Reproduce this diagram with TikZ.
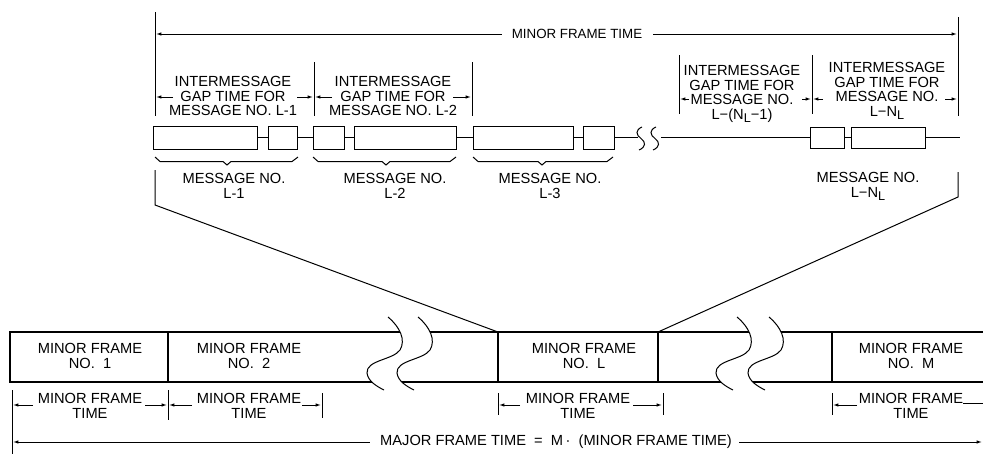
\documentclass[tikz,border=0pt]{standalone}
\usepackage{fontspec}
\setmainfont{Liberation Sans}
\usetikzlibrary{arrows.meta}
\newcommand\sub[1]{\raisebox{-0.45ex}{\fontsize{9.5}{9.5}\selectfont #1}}
\newcommand\wvf[1]{(388+#1,317) .. controls (400+#1,327) and (406+#1,340) .. (400+#1,350) .. controls (393+#1,360) and (366+#1,360) .. (367+#1,373) .. controls (368+#1,381) and (376+#1,386) .. (384+#1,390)}
\newcommand\wvr[1]{(384+#1,390) .. controls (376+#1,386) and (368+#1,381) .. (367+#1,373) .. controls (366+#1,360) and (393+#1,360) .. (400+#1,350) .. controls (406+#1,340) and (400+#1,327) .. (388+#1,317)}
\newcommand\sss[1]{(642+#1,127) .. controls (635+#1,130) and (636+#1,135) .. (641+#1,138.5) .. controls (646+#1,142) and (646+#1,147) .. (639+#1,150)}
\newcommand\mybrace[3]{\draw[ln] (#1,157) -- (#1+5,161.5) -- (#2-4,161.5) -- (#2,165) -- (#2+4,161.5) -- (#3-6,161.5) -- (#3,157);}
\begin{document}
\begin{tikzpicture}[x=0.75pt,y=-0.75pt,
  every node/.style={font=\fontsize{11}{10.9}\selectfont, inner sep=0pt, align=center},
  ln/.style={line width=0.75pt},
  frm/.style={line width=0.9pt},
  arr/.style={ln,-{Latex[length=4pt,width=2.6pt]}},
  mbox/.style={draw, line width=0.75pt, minimum height=23*0.75pt},
  rbox/.style={draw, line width=0.75pt, minimum height=21*0.75pt},
  lbl/.style={anchor=north}]
\useasboundingbox (0,0) rectangle (983,454);

% ---------- top: minor frame time ----------
\draw[ln] (155,12) -- (155,116);
\draw[ln] (958,17) -- (958,116);
\node[font=\fontsize{10}{10}\selectfont] (mft) at (577,34) {MINOR FRAME TIME};
\coordinate (mftL) at (156,34);
\coordinate (mftR) at (957,34);
\draw[arr] (mft.west) ++(-10,0) -- (mftL);
\draw[arr] (mft.east) ++(11,0) -- (mftR);

% ---------- intermessage gap dimensions ----------
\draw[ln] (314,62) -- (314,116);
\draw[ln] (472,62) -- (472,116);
\draw[ln] (679,55) -- (679,114);
\draw[ln] (812,55) -- (812,114);
\node[lbl] (g1) at (233,76) {INTERMESSAGE\\GAP TIME FOR\\MESSAGE NO. L-1};
\node[lbl] (g2) at (393,76) {INTERMESSAGE\\GAP TIME FOR\\MESSAGE NO. L-2};
\node[lbl] (g3) at (742,65) {INTERMESSAGE\\GAP TIME FOR\\MESSAGE NO.\\L−(N\sub{L}−1)};
\node[lbl] (g4) at (887,62) {INTERMESSAGE\\GAP TIME FOR\\MESSAGE NO.\\L−N\sub{L}};
\draw[arr] (173,97) -- (156,97);
\draw[arr] (297,97) -- (313,97);
\draw[arr] (332,97) -- (315,97);
\draw[arr] (453,97) -- (471,97);
\draw[arr] (689,99) -- (680,99);
\draw[arr] (802,99) -- (811,99);
\draw[arr] (823,99) -- (813,99);
\draw[arr] (945,99) -- (957,99);

% ---------- message row ----------
\node[mbox, minimum width=104*0.75pt] (b1) at (205,137.5) {};
\node[mbox, minimum width=29*0.75pt] (b2) at (282.5,137.5) {};
\node[mbox, minimum width=31*0.75pt] (b3) at (328.5,137.5) {};
\node[mbox, minimum width=102*0.75pt] (b4) at (405,137.5) {};
\node[mbox, minimum width=100*0.75pt] (b5) at (523,137.5) {};
\node[mbox, minimum width=31*0.75pt] (b6) at (598.5,137.5) {};
\node[rbox, minimum width=34*0.75pt] (b7) at (827,137.5) {};
\node[rbox, minimum width=74*0.75pt] (b8) at (888,137.5) {};
\coordinate (brkL) at (638,137.5);
\coordinate (brkR) at (661,137.5);
\coordinate (rowEnd) at (960,137.5);
\draw[ln] (b1.east) -- (b2.west);
\draw[ln] (b2.east) -- (b3.west);
\draw[ln] (b3.east) -- (b4.west);
\draw[ln] (b4.east) -- (b5.west);
\draw[ln] (b5.east) -- (b6.west);
\draw[ln] (b6.east) -- (brkL);
\draw[ln] (brkR) -- (b7.west);
\draw[ln] (b7.east) -- (b8.west);
\draw[ln] (b8.east) -- (rowEnd);
\draw[ln] \sss{0};
\draw[ln] \sss{14};

% braces
\mybrace{155}{227}{298}
\mybrace{313}{386}{456}
\mybrace{473}{542}{613}

\node[lbl] (m1) at (234,173) {MESSAGE NO.\\L-1};
\node[lbl] (m2) at (395,173) {MESSAGE NO.\\L-2};
\node[lbl] (m3) at (550,173) {MESSAGE NO.\\L-3};
\node[lbl] (m4) at (868,172) {MESSAGE NO.\\L−N\sub{L}};

% ---------- zoom lines ----------
\coordinate (fLtop) at (498,332);
\coordinate (fRtop) at (658,332);
\draw[ln] (155,170) -- (155,205) -- (fLtop);
\draw[ln] (958,172) -- (958,197) -- (fRtop);

% ---------- major frame ----------
\draw[frm] (983,332) -- (10,332) -- (10,382) -- (983,382);
\draw[frm] (168,332) -- (168,382);
\draw[frm] (498,332) -- (498,382);
\draw[frm] (658,332) -- (658,382);
\draw[frm] (832,332) -- (832,382);
\fill[white] \wvf{0} -- \wvr{30} -- cycle;
\draw[ln] \wvf{0};
\draw[ln] \wvf{30};
\fill[white] \wvf{349} -- \wvr{381} -- cycle;
\draw[ln] \wvf{349};
\draw[ln] \wvf{381};

\node[lbl] (f1) at (90,343) {MINOR FRAME\\NO.\ \ 1};
\node[lbl] (f2) at (249,343) {MINOR FRAME\\NO.\ \ 2};
\node[lbl] (f3) at (584,343) {MINOR FRAME\\NO.\ \ L};
\node[lbl] (f4) at (911,343) {MINOR FRAME\\NO.\ \ M};

% ---------- minor frame time dims ----------
\draw[ln] (12,390) -- (12,454);
\draw[ln] (168,390) -- (168,420);
\draw[ln] (322,393) -- (322,418);
\draw[ln] (498,393) -- (498,415);
\draw[ln] (663,393) -- (663,415);
\draw[ln] (832,393) -- (832,415);
\node[lbl] (t1) at (90,393) {MINOR FRAME\\TIME};
\node[lbl] (t2) at (249,393) {MINOR FRAME\\TIME};
\node[lbl] (t3) at (578,393) {MINOR FRAME\\TIME};
\node[lbl] (t4) at (911,393) {MINOR FRAME\\TIME};
\draw[arr] (33,405) -- (13,405);
\draw[arr] (145,405) -- (167,405);
\draw[arr] (192,405) -- (169,405);
\draw[arr] (302,405) -- (321,405);
\draw[arr] (520,405) -- (499,405);
\draw[arr] (633,405) -- (662,405);
\draw[arr] (857,405) -- (833,405);
\draw[ln] (963,403) -- (983,403);

% ---------- major frame time ----------
\node (maj) at (556,442) {MAJOR FRAME TIME\ \ =\ \ M\,·\ \ (MINOR FRAME TIME)};
\draw[arr] (maj.west) ++(-10,0) -- (13,442);
\draw[arr] (maj.east) ++(7,0) -- (982,442);
\end{tikzpicture}
\end{document}
